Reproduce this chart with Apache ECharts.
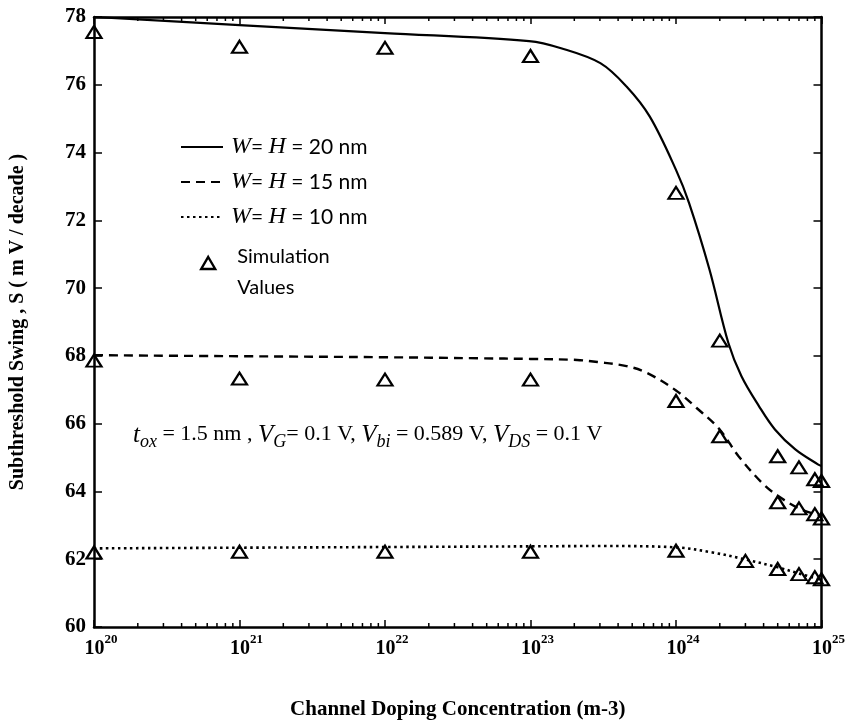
<!DOCTYPE html>
<html>
<head>
<meta charset="utf-8">
<script src="https://cdn.jsdelivr.net/npm/echarts@6/dist/echarts.min.js"></script>
<style>
html,body{margin:0;padding:0;background:#fff;}
#chart{width:848px;height:725px;}
</style>
</head>
<body>
<div id="chart"></div>
<script>
// ---- Data (x as log10 of doping concentration, y in mV/decade) ----
const line20Exp = [20, 21, 22, 22.99, 23.21, 23.48, 23.66, 23.82, 24.0, 24.09, 24.23, 24.36, 24.45, 24.57, 24.68, 24.82, 24.975, 25];
const line20Val = [78.0, 77.76, 77.525, 77.29, 77.08, 76.64, 75.95, 75.06, 73.49, 72.51, 70.55, 68.38, 67.40, 66.52, 65.83, 65.24, 64.8, 64.75];

const line15Exp = [20, 21, 22, 22.64, 23.0, 23.32, 23.46, 23.66, 23.8, 24.0, 24.14, 24.30, 24.43, 24.59, 24.70, 24.86, 25];
const line15Val = [68.02, 67.99, 67.96, 67.93, 67.91, 67.88, 67.82, 67.7, 67.5, 66.98, 66.47, 65.83, 65.04, 64.26, 63.87, 63.47, 63.28];

const line10Exp = [20, 21, 22, 23, 23.5, 24.0, 24.25, 24.47, 24.70, 24.86, 25];
const line10Val = [62.32, 62.34, 62.36, 62.38, 62.39, 62.35, 62.2, 62.0, 61.76, 61.56, 61.39];

const sim20Conc = [1e20, 1e21, 1e22, 1e23, 1e24, 2e24, 5e24, 7e24, 9e24, 1e25];
const sim20Val  = [77.56, 77.12, 77.09, 76.85, 72.81, 68.45, 65.04, 64.71, 64.36, 64.31];

const sim15Conc = [1e20, 1e21, 1e22, 1e23, 1e24, 2e24, 5e24, 7e24, 9e24, 1e25];
const sim15Val  = [67.86, 67.33, 67.3, 67.3, 66.67, 65.63, 63.68, 63.5, 63.33, 63.2];

const sim10Conc = [1e20, 1e21, 1e22, 1e23, 1e24, 3e24, 5e24, 7e24, 9e24, 1e25];
const sim10Val  = [62.2, 62.22, 62.22, 62.22, 62.25, 61.95, 61.71, 61.56, 61.47, 61.41];

const xMinExp = 20, xMaxExp = 25;
const yMin = 60, yMax = 78, yStep = 2;

const seriesNames = ['W = H = 20 nm', 'W = H = 15 nm', 'W = H = 10 nm'];
const legendLabels = { 'W = H = 20 nm': '20 nm', 'W = H = 15 nm': '15 nm', 'W = H = 10 nm': '10 nm' };
const simName = 'Simulation Values';

// ---- helpers ----
const toPairsExp = (ex, v) => ex.map((e, i) => [Math.pow(10, e), v[i]]);
const toPairs = (c, v) => c.map((x, i) => [x, v[i]]);
const minorTicks = [];
for (let d = xMinExp; d < xMaxExp; d++) for (let k = 2; k <= 9; k++) minorTicks.push([k * Math.pow(10, d), yMin]);

const SERIF = '"Liberation Serif", "Times New Roman", serif';
const SANS = 'Lato, "Open Sans", sans-serif';
const chart = echarts.init(document.getElementById('chart'));

const lineBase = { type: 'line', symbol: 'none', smooth: 0.35, z: 3, itemStyle: { color: '#000' } };
const simBase = {
  type: 'scatter', name: simName, symbol: 'triangle', symbolSize: [15, 12],
  itemStyle: { color: 'rgba(0,0,0,0)', borderColor: '#000', borderWidth: 2.2, opacity: 1 }, z: 4
};

chart.setOption({
  animation: false,
  backgroundColor: '#fff',
  grid: { left: 93, right: 21, top: 17, bottom: 97, containLabel: false },
  xAxis: [{
    type: 'log', logBase: 10, min: Math.pow(10, xMinExp), max: Math.pow(10, xMaxExp),
    position: 'bottom',
    name: 'Channel Doping Concentration (m-3)', nameLocation: 'middle', nameGap: 72,
    nameTextStyle: { fontFamily: SERIF, fontWeight: 'bold', fontSize: 21, color: '#000' },
    axisLine: { show: true, onZero: false, lineStyle: { color: '#000', width: 2.5 } },
    axisTick: { show: true, inside: true, length: 7, lineStyle: { color: '#000', width: 1.5 } },
    splitLine: { show: false },
    axisLabel: {
      margin: 6, padding: [0, 0, 0, 14],
      formatter: v => '{b|10}{s|' + Math.round(Math.log10(v)) + '}',
      rich: {
        b: { fontFamily: SERIF, fontWeight: 'bold', fontSize: 20, color: '#000', lineHeight: 26, verticalAlign: 'bottom' },
        s: { fontFamily: SERIF, fontWeight: 'bold', fontSize: 13, color: '#000', lineHeight: 8, verticalAlign: 'top' }
      }
    }
  }, {
    type: 'log', logBase: 10, min: Math.pow(10, xMinExp), max: Math.pow(10, xMaxExp),
    position: 'top',
    axisLine: { show: true, onZero: false, lineStyle: { color: '#000', width: 2.5 } },
    axisTick: { show: true, inside: true, length: 7, lineStyle: { color: '#000', width: 1.5 } },
    axisLabel: { show: false }, splitLine: { show: false }
  }],
  yAxis: [{
    type: 'value', min: yMin, max: yMax, interval: yStep, position: 'left',
    name: 'Subthreshold Swing , S ( m V / decade )', nameLocation: 'middle', nameGap: 66, nameRotate: 90,
    nameTextStyle: { fontFamily: SERIF, fontWeight: 'bold', fontSize: 20, color: '#000' },
    axisLine: { show: true, onZero: false, lineStyle: { color: '#000', width: 2.5 } },
    axisTick: { show: true, inside: true, length: 8, lineStyle: { color: '#000', width: 1.5 } },
    splitLine: { show: false },
    axisLabel: { margin: 8, fontFamily: SERIF, fontWeight: 'bold', fontSize: 21, color: '#000' }
  }, {
    type: 'value', min: yMin, max: yMax, interval: yStep, position: 'right',
    axisLine: { show: true, onZero: false, lineStyle: { color: '#000', width: 2.5 } },
    axisTick: { show: true, inside: true, length: 8, lineStyle: { color: '#000', width: 1.5 } },
    axisLabel: { show: false }, splitLine: { show: false }
  }],
  legend: [{
    data: seriesNames, orient: 'vertical', left: 180, top: 135, padding: 0,
    itemWidth: 42, itemHeight: 14, itemGap: 11, selectedMode: false,
    itemStyle: { opacity: 0 },
    formatter: n => '{w|W}{r|= }{i|H}{r| = ' + legendLabels[n] + '}',
    textStyle: {
      rich: {
        w: { fontFamily: SERIF, fontStyle: 'italic', fontSize: 24, color: '#000', padding: [0, 0, 0, 3] },
        i: { fontFamily: SERIF, fontStyle: 'italic', fontSize: 24, color: '#000' },
        r: { fontFamily: SANS, fontSize: 21, color: '#000' }
      }
    }
  }, {
    data: [{ name: simName, icon: 'triangle' }], orient: 'vertical', left: 200, top: 227, padding: 0,
    itemWidth: 14, itemHeight: 12, selectedMode: false,
    itemStyle: { color: 'rgba(0,0,0,0)', borderColor: '#000', borderWidth: 2.4, opacity: 1 },
    formatter: () => '{p|}\n{a|Simulation}\n{a|Values}',
    textStyle: {
      rich: {
        p: { lineHeight: 18, fontSize: 10 },
        a: { fontFamily: SANS, fontSize: 20, color: '#000', lineHeight: 31, padding: [0, 0, 0, 17] }
      }
    }
  }],
  graphic: [{
    type: 'text', left: 133, top: 423, silent: true,
    style: {
      text: '{it|t}{sub|ox}{n| = 1.5 nm , }{it|V}{sub|G}{n|= 0.1 V, }{it|V}{sub|bi}{n| = 0.589 V, }{it|V}{sub|DS}{n| = 0.1 V}',
      rich: {
        it: { fontFamily: SERIF, fontStyle: 'italic', fontSize: 25, color: '#000', lineHeight: 28, verticalAlign: 'top' },
        sub: { fontFamily: SERIF, fontStyle: 'italic', fontSize: 18, color: '#000', lineHeight: 14, verticalAlign: 'bottom' },
        n: { fontFamily: SERIF, fontSize: 22, color: '#000', lineHeight: 28, verticalAlign: 'top' }
      }
    }
  }],
  series: [
    Object.assign({}, lineBase, { name: seriesNames[0], data: toPairsExp(line20Exp, line20Val), lineStyle: { color: '#000', width: 2.2, type: 'solid' } }),
    Object.assign({}, lineBase, { name: seriesNames[1], data: toPairsExp(line15Exp, line15Val), lineStyle: { color: '#000', width: 2.4, type: [9, 6] } }),
    Object.assign({}, lineBase, { name: seriesNames[2], data: toPairsExp(line10Exp, line10Val), lineStyle: { color: '#000', width: 2.6, type: [2.5, 3.5] } }),
    Object.assign({}, simBase, { data: toPairs(sim20Conc, sim20Val) }),
    Object.assign({}, simBase, { data: toPairs(sim15Conc, sim15Val) }),
    Object.assign({}, simBase, { data: toPairs(sim10Conc, sim10Val) }),
    {
      type: 'custom', name: 'minorTicks', silent: true, clip: false, z: 5,
      data: minorTicks, encode: { x: 0, y: 1 },
      renderItem: (params, api) => {
        const b = api.coord([api.value(0), yMin]);
        const t = api.coord([api.value(0), yMax]);
        const st = { stroke: '#000', lineWidth: 1.5 };
        return { type: 'group', children: [
          { type: 'line', shape: { x1: b[0], y1: b[1], x2: b[0], y2: b[1] - 4 }, style: st },
          { type: 'line', shape: { x1: t[0], y1: t[1], x2: t[0], y2: t[1] + 4 }, style: st }
        ] };
      }
    }
  ]
});
</script>
</body>
</html>
